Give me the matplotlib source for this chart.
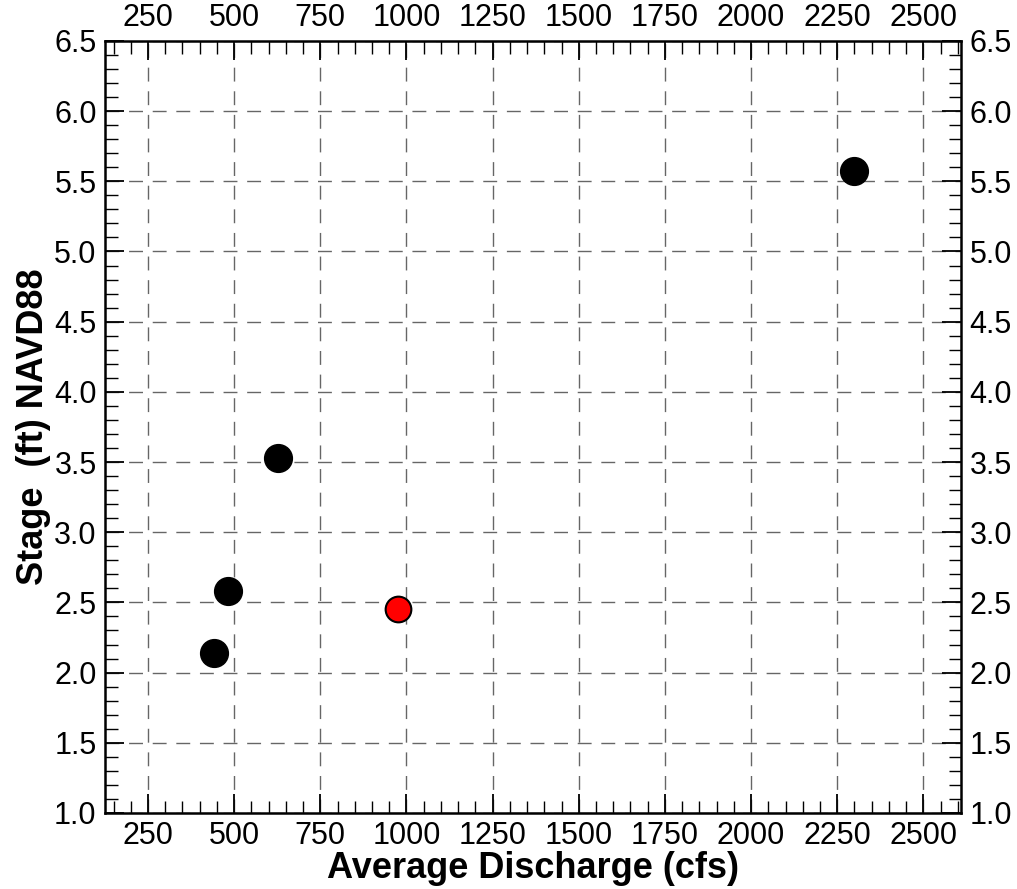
import numpy as np
import matplotlib.pyplot as plt
from matplotlib.ticker import MultipleLocator

plt.rcParams['font.family'] = ['Liberation Sans', 'DejaVu Sans']

# average discharge (cfs) vs stage (ft NAVD88)
discharge = [440, 482, 628, 2298]
stage = [2.14, 2.58, 3.53, 5.57]
# highlighted current point
cur_discharge = [976]
cur_stage = [2.45]

fig = plt.figure(figsize=(10.17, 8.89), dpi=100)
ax = fig.add_axes([0.1032, 0.0855, 0.842, 0.8685])

ax.plot(discharge, stage, 'o', color='black', markersize=20, zorder=3)
ax.plot(cur_discharge, cur_stage, 'o', color='red', markeredgecolor='black',
        markeredgewidth=1.5, markersize=18.5, zorder=3)

ax.set_xlim(125, 2610)
ax.set_ylim(1.0, 6.5)
ax.xaxis.set_major_locator(MultipleLocator(250))
ax.xaxis.set_minor_locator(MultipleLocator(50))
ax.yaxis.set_major_locator(MultipleLocator(0.5))
ax.yaxis.set_minor_locator(MultipleLocator(0.1))
ax.yaxis.set_major_formatter(plt.FormatStrFormatter('%.1f'))

ax.grid(True, which='major', color='#666666', linestyle=(0, (10, 7)), linewidth=1.0)
ax.tick_params(which='both', direction='in', top=True, right=True,
               labeltop=True, labelright=True, labelsize=22, pad=6)
ax.tick_params(which='major', length=14, width=1.3)
ax.tick_params(which='minor', length=9, width=1.0)
for s in ax.spines.values():
    s.set_linewidth(1.8)

ax.set_xlabel('Average Discharge (cfs)', fontsize=26, fontweight='bold', labelpad=0)
ax.set_ylabel('Stage  (ft) NAVD88', fontsize=26, fontweight='bold', labelpad=2)

fig.savefig('out.png', dpi=100)
